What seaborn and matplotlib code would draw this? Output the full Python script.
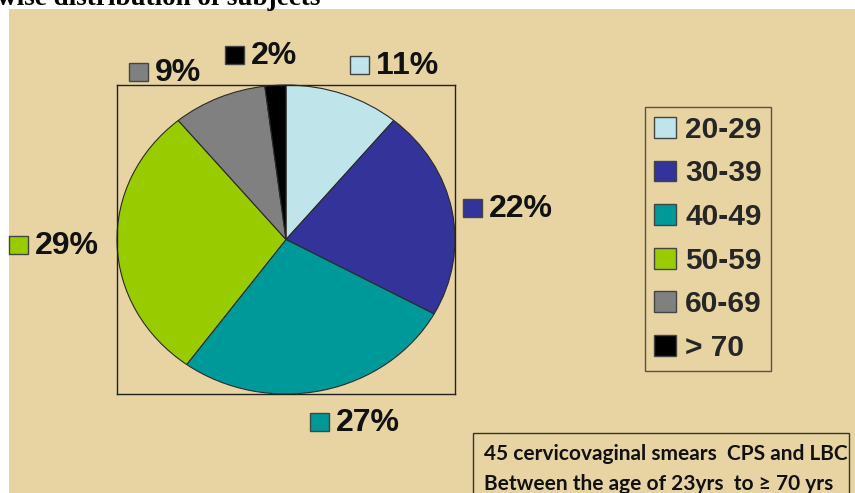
import matplotlib
matplotlib.use("Agg")
import matplotlib.pyplot as plt
import seaborn as sns
from matplotlib.patches import Rectangle

# data
age_groups = ["20-29", "30-39", "40-49", "50-59", "60-69", "> 70"]
percentages = [11, 22, 27, 29, 9, 2]
slice_colors = ["#BFE4EA", "#333399", "#009999", "#99CC00", "#808080", "#000000"]
note_lines = ["45 cervicovaginal smears  CPS and LBC",
              "Between the age of 23yrs  to \u2265 70 yrs"]

sns.set_theme(style="white")
plt.rcParams["font.family"] = ["Liberation Sans", "DejaVu Sans"]

W, H = 855, 493
fig = plt.figure(figsize=(W / 100, H / 100), dpi=100)
fig.patch.set_facecolor("white")

# overlay axes in pixel coords for background, labels and note box
bg = fig.add_axes([0, 0, 1, 1])
bg.set_xlim(0, W)
bg.set_ylim(H, 0)
bg.axis("off")
bg.add_patch(Rectangle((9, 9), W, H, facecolor="#E8D4A2", edgecolor="none"))

# cut-off title at the very top
fig.text(-0.003, 1 - 5 / H, "wise distribution of subjects", family="Liberation Serif",
         fontweight="bold", fontsize=19.5, va="baseline", ha="left", color="black")

# pie inside its box
ax = fig.add_axes([117 / W, 1 - 394 / H, 338 / W, 309 / H])
wedges, _ = ax.pie(percentages, colors=slice_colors, startangle=90, counterclock=False,
                   wedgeprops=dict(edgecolor="#2a2a2a", linewidth=0.8))
ax.set_aspect("auto")
ax.set_xlim(-1, 1)
ax.set_ylim(-1, 1)
ax.set_facecolor("none")
ax.set_frame_on(True)
for s in ax.spines.values():
    s.set_visible(True)
    s.set_color("#222222")
    s.set_linewidth(1.0)

# percentage labels with coloured squares (pixel positions)
label_pos = [(350, 65), (463, 208), (310, 422), (9, 245), (129, 72), (225, 55)]
for (x, y), pct, col in zip(label_pos, percentages, slice_colors):
    bg.add_patch(Rectangle((x, y - 9), 19, 18, facecolor=col, edgecolor="#444444", linewidth=1))
    bg.text(x + 26, y + 1, f"{pct}%", fontsize=23, fontweight="bold", va="center", ha="left",
            color="#111111")

# legend
leg = fig.legend(wedges, age_groups, loc="upper left",
                 bbox_to_anchor=(645 / W, 1 - 107 / H), bbox_transform=fig.transFigure,
                 prop=dict(size=21.5, weight="bold"), handlelength=0.75, handleheight=0.7,
                 handletextpad=0.3, labelspacing=0.52, borderpad=0.3, borderaxespad=0,
                 fancybox=False, frameon=True)
leg.get_frame().set_facecolor("none")
leg.get_frame().set_edgecolor("#333333")
leg.get_frame().set_linewidth(1.0)
for h in leg.legend_handles:
    h.set_edgecolor("#444444")
    h.set_linewidth(1.0)

# note box bottom right
bg.add_patch(Rectangle((473, 433), 376, 80, facecolor="none", edgecolor="#333333", linewidth=1))
for i, line in enumerate(note_lines):
    bg.text(484, 454 + i * 30, line, family="Lato", fontsize=15, fontweight="bold",
            va="center", ha="left", color="#111111")

fig.savefig("out.png", dpi=100)
